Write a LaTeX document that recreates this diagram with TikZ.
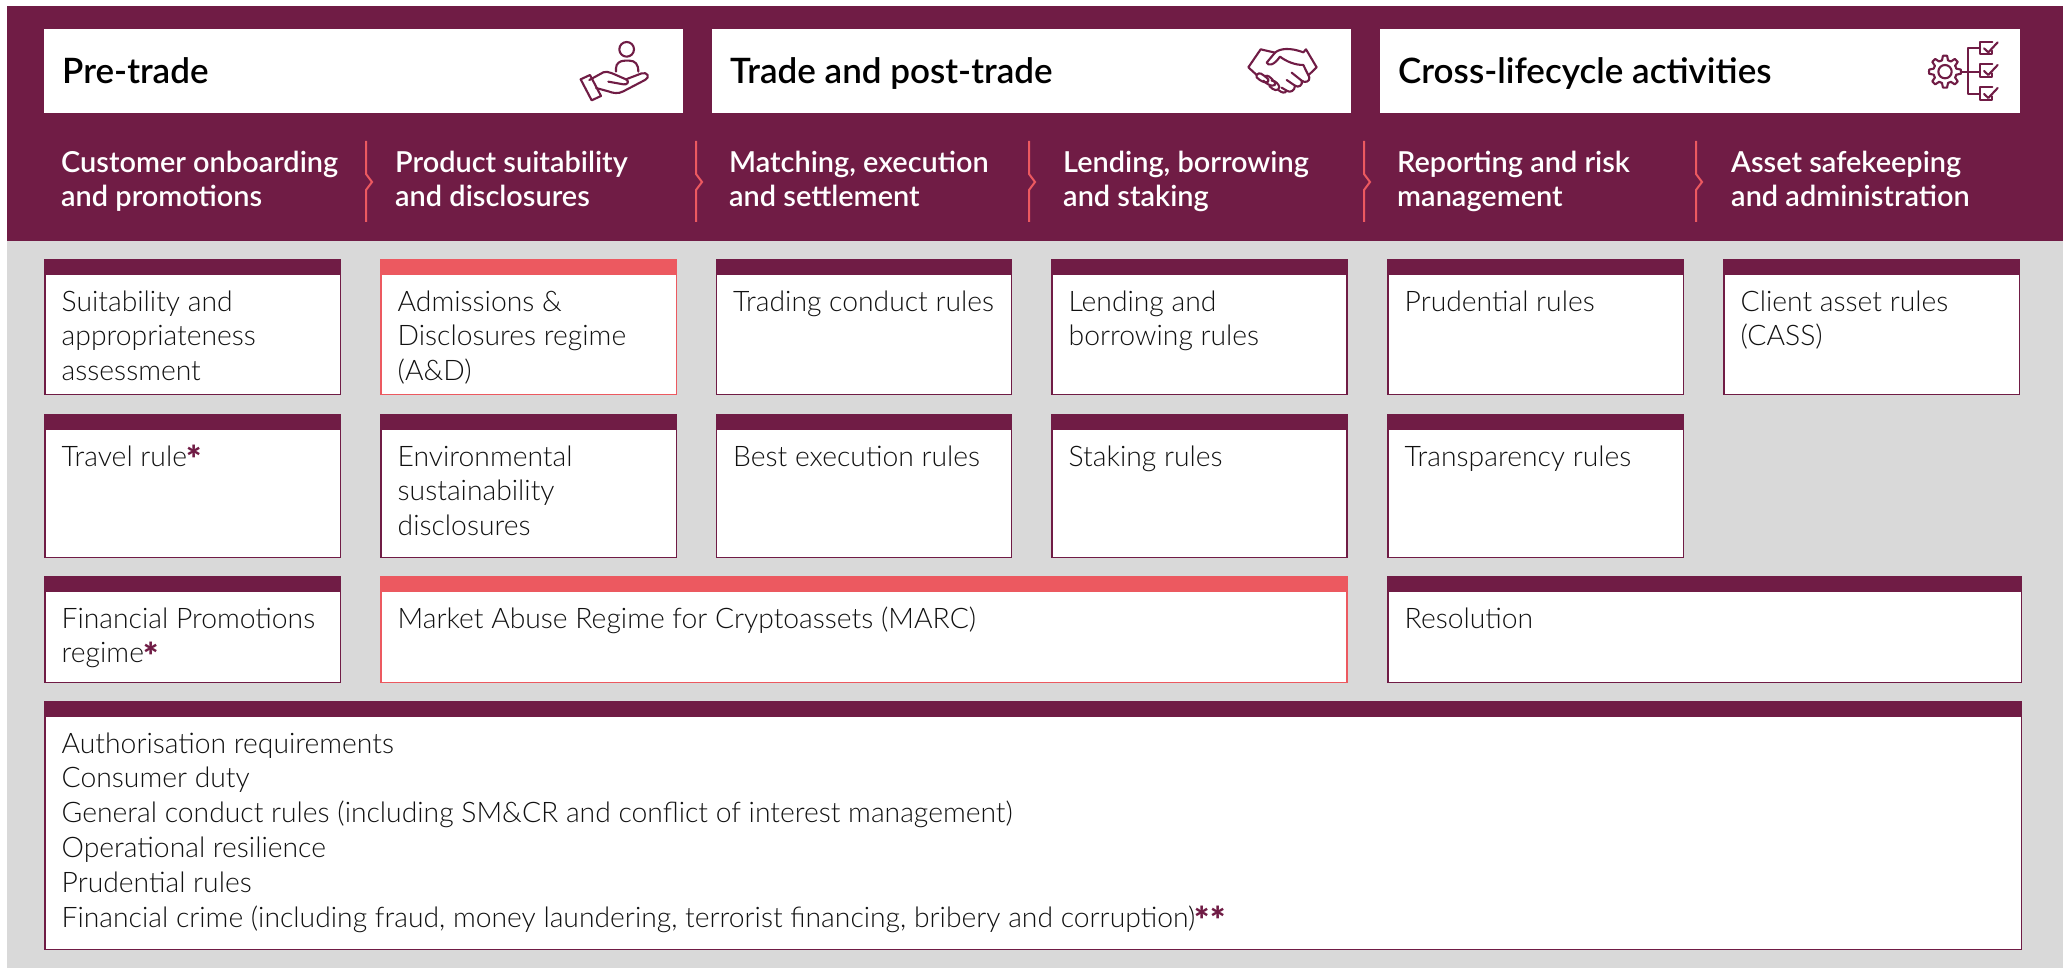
\documentclass[tikz,border=0pt]{standalone}
\usepackage{fontspec}
\setmainfont{Lato Light}
\newfontfamily\semib{Lato Semibold}
\newfontfamily\starfont{Lato Black}
\definecolor{plum}{HTML}{701C45}
\definecolor{coral}{HTML}{EC5960}
\definecolor{panel}{HTML}{D9D9D9}
\definecolor{ink}{HTML}{111111}
\newcommand{\cardbox}[7]{%
  \pgfmathsetmacro{\cw}{#4-#2}%
  \pgfmathsetmacro{\ch}{#5-#3}%
  \pgfmathsetmacro{\tx}{#2+17.5}%
  \pgfmathsetmacro{\ty}{#3+52}%
  \node[bodybox,draw=#6,minimum width=\cw-1.5,minimum height=\ch-1.5,anchor=north west] (#1-body) at (#2+0.75,#3+0.75) {};
  \node[headbox,fill=#6,minimum width=\cw,anchor=north west] (#1-head) at (#2,#3) {};
  \node[cardtext] (#1-text) at (\tx,\ty) {\begin{tabular}[t]{@{}l@{}}#7\end{tabular}};
}
\newcommand{\mystar}{{\fontsize{36}{34.8}\starfont\selectfont\raisebox{-6.5pt}{\textcolor{plum}{*}}}}
\tikzset{
  bodybox/.style={rectangle,fill=white,line width=1.5pt,inner sep=0,outer sep=0},
  headbox/.style={rectangle,minimum height=16,inner sep=0,outer sep=0},
  cardtext/.style={anchor=base west,inner sep=0,text=ink,font=\fontsize{28.3}{34.8}\selectfont},
  toptitle/.style={anchor=base west,inner sep=0,text=black,font=\semib\fontsize{35}{40}\selectfont},
  stage/.style={anchor=base west,inner sep=0,text=white,font=\semib\fontsize{28.9}{34}\selectfont},
  topbox/.style={rectangle,fill=white,inner sep=0,outer sep=0,anchor=north west,minimum height=84,minimum width=#1},
  chev/.style={draw=coral,line width=2pt},
  icon/.style={draw=plum,line width=2.1pt,line join=round,line cap=round},
}
\begin{document}
\begin{tikzpicture}[x=1pt,y=-1pt]
\useasboundingbox (0,0) rectangle (2063,968);
\fill[white] (0,0) rectangle (2063,968);
\fill[panel] (7,6) rectangle (2063,968);
\fill[plum] (7,6) rectangle (2063,241);
% top boxes
\node[topbox=639] (pre) at (44,29.5) {};
\node[topbox=639] (trade) at (712,29.5) {};
\node[topbox=640] (cross) at (1380,29.5) {};
\node[toptitle] (pret) at (62,84) {Pre-trade};
\node[toptitle] (tradet) at (730,84) {Trade and post-trade};
\node[toptitle] (crosst) at (1398,84) {Cross-lifecycle activities};
% stage labels
\node[stage] (s1) at (61,173) {\begin{tabular}[t]{@{}l@{}}Customer onboarding\\and promotions\end{tabular}};
\node[stage] (s2) at (395,173) {\begin{tabular}[t]{@{}l@{}}Product suitability\\and disclosures\end{tabular}};
\node[stage] (s3) at (729,173) {\begin{tabular}[t]{@{}l@{}}Matching, execution\\and settlement\end{tabular}};
\node[stage] (s4) at (1063,173) {\begin{tabular}[t]{@{}l@{}}Lending, borrowing\\and staking\end{tabular}};
\node[stage] (s5) at (1397,173) {\begin{tabular}[t]{@{}l@{}}Reporting and risk\\management\end{tabular}};
\node[stage] (s6) at (1731,173) {\begin{tabular}[t]{@{}l@{}}Asset safekeeping\\and administration\end{tabular}};
% chevrons
\foreach \cx in {366,696,1029,1364,1696}
  \draw[chev] (\cx,141) -- (\cx,174) -- (\cx+6,182) -- (\cx,190) -- (\cx,222);
% cards
\cardbox{a1}{44}{259}{341}{395}{plum}{Suitability and\\appropriateness\\assessment}
\cardbox{a2}{380}{259}{677}{395}{coral}{Admissions \&\\Disclosures regime\\(A\&D)}
\cardbox{a3}{715.5}{259}{1012}{395}{plum}{Trading conduct rules}
\cardbox{a4}{1051}{259}{1347.5}{395}{plum}{Lending and\\borrowing rules}
\cardbox{a5}{1387}{259}{1684}{395}{plum}{Prudential rules}
\cardbox{a6}{1723}{259}{2020}{395}{plum}{Client asset rules\\(CASS)}
\cardbox{b1}{44}{414}{341}{558}{plum}{Travel rule\mystar}
\cardbox{b2}{380}{414}{677}{558}{plum}{Environmental\\sustainability\\disclosures}
\cardbox{b3}{715.5}{414}{1012}{558}{plum}{Best execution rules}
\cardbox{b4}{1051}{414}{1347.5}{558}{plum}{Staking rules}
\cardbox{b5}{1387}{414}{1684}{558}{plum}{Transparency rules}
\cardbox{c1}{44}{576}{341}{683}{plum}{Financial Promotions\\regime\mystar}
\cardbox{c2}{380}{576}{1347.5}{683}{coral}{Market Abuse Regime for Cryptoassets (MARC)}
\cardbox{c3}{1387}{576}{2022}{683}{plum}{Resolution}
\cardbox{d1}{44}{701}{2022}{950}{plum}{Authorisation requirements\\Consumer duty\\General conduct rules (including SM\&CR and conflict of interest management)\\Operational resilience\\Prudential rules\\Financial crime (including fraud, money laundering, terrorist financing, bribery and corruption)\mystar\mystar}
% hand icon
\begin{scope}[x=0.3333pt,y=-0.3333pt,shift={(540pt,-20pt)}]
\draw[icon] (260,88) circle[radius=22];
\draw[icon] (228,155) -- (228,145) .. controls (228,130) and (240,122) .. (255,122) -- (268,122) .. controls (285,122) and (295,132) .. (295,155);
\draw[icon] (122,178) -- (150,165) -- (183,228) -- (155,241) -- cycle;
\draw[icon] (148,180) -- (190,157) .. controls (205,152) and (215,160) .. (258,178) .. controls (270,184) and (262,196) .. (250,193) -- (205,185);
\draw[icon] (258,178) -- (305,160) .. controls (322,155) and (332,172) .. (315,180) -- (250,214) .. controls (235,222) and (220,220) .. (205,214) -- (168,204);
\end{scope}
% handshake icon
\begin{scope}[x=0.3333pt,y=-0.3333pt,shift={(1220pt,-20pt)}]
\draw[icon] (110,165) -- (85,142) -- (122,88) -- (165,98) .. controls (180,85) and (210,82) .. (250,97) -- (258,88) -- (290,142) -- (266,165);
\draw[icon] (165,98) -- (140,128) .. controls (145,138) and (160,138) .. (180,110) .. controls (200,125) and (225,135) .. (250,135) -- (268,172) .. controls (270,185) and (255,190) .. (245,182) -- (215,158);
\draw[icon] (245,182) .. controls (250,195) and (235,205) .. (225,197) -- (200,180);
\draw[icon] (225,197) .. controls (225,212) and (210,220) .. (200,212) -- (185,203);
\draw[icon] (200,212) .. controls (195,222) and (185,218) .. (175,210);
\draw[icon] (110,165) .. controls (118,155) and (125,160) .. (145,178) .. controls (150,190) and (130,192) .. (110,172) -- cycle;
\draw[icon] (135,168) .. controls (145,165) and (150,170) .. (165,188) .. controls (170,200) and (150,202) .. (130,182);
\draw[icon] (155,182) .. controls (165,180) and (178,195) .. (178,202) .. controls (175,215) and (160,212) .. (148,198);
\end{scope}
% gear and checklist icon
\begin{scope}[x=0.3333pt,y=-0.3333pt,shift={(1900pt,-20pt)}]
\draw[icon] (135,155) circle[radius=20];
\draw[icon] plot[sharp cycle,samples at={0,...,47}] ({135+(mod(\x+1,6)<3?48:35)*cos(\x*7.5)},{155+(mod(\x+1,6)<3?48:35)*sin(\x*7.5)});
\draw[icon] (185,155) -- (240,155) (240,85) -- (205,85) -- (205,222) -- (240,222);
\foreach \oy in {0,68,137} {
  \draw[icon] (277,65+\oy) -- (240,65+\oy) -- (240,103+\oy) -- (277,103+\oy) -- (277,92+\oy);
  \draw[icon] (252,85+\oy) -- (265,97+\oy) -- (293,67+\oy);
}
\end{scope}
\end{tikzpicture}
\end{document}
